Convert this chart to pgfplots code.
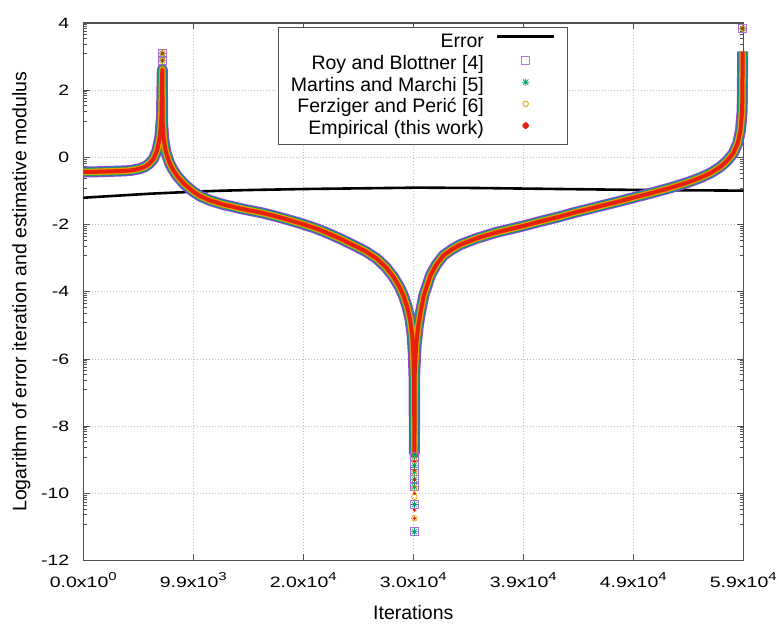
\documentclass[border=0pt]{standalone}
\usepackage{fontspec}
\setmainfont{Liberation Sans}
\newfontfamily\tickfont[FakeStretch=1.3]{Liberation Sans}
\usepackage{pgfplots}
\usepackage{pgfplotstable}
\pgfplotsset{compat=1.18}
\usetikzlibrary{calc}

\definecolor{royc}{HTML}{9B45D4}
\definecolor{ringc}{HTML}{5560C0}
\definecolor{mmc}{HTML}{009E73}
\definecolor{fpc}{HTML}{E69F00}
\definecolor{empc}{HTML}{E6200F}
\definecolor{gridc}{HTML}{BBBBBB}
\definecolor{framec}{HTML}{505050}

% gnuplot-style asterisk (+ and x)
\pgfdeclareplotmark{gpstar}{%
  \pgfpathmoveto{\pgfqpoint{-\pgfplotmarksize}{0pt}}\pgfpathlineto{\pgfqpoint{\pgfplotmarksize}{0pt}}%
  \pgfpathmoveto{\pgfqpoint{0pt}{-\pgfplotmarksize}}\pgfpathlineto{\pgfqpoint{0pt}{\pgfplotmarksize}}%
  \pgfpathmoveto{\pgfqpoint{-.707\pgfplotmarksize}{-.707\pgfplotmarksize}}\pgfpathlineto{\pgfqpoint{.707\pgfplotmarksize}{.707\pgfplotmarksize}}%
  \pgfpathmoveto{\pgfqpoint{-.707\pgfplotmarksize}{.707\pgfplotmarksize}}\pgfpathlineto{\pgfqpoint{.707\pgfplotmarksize}{-.707\pgfplotmarksize}}%
  \pgfusepathqstroke}

\newcommand\expo[1]{\raisebox{6.6pt}{\fontsize{11.5}{12}\selectfont #1}}

% error of the iteration (log modulus)
\pgfplotstableread{
it err
0 -1.20
2000 -1.16
4000 -1.12
6000 -1.08
8000 -1.05
10000 -1.02
12500 -0.99
15000 -0.97
20000 -0.94
25000 -0.92
30000 -0.90
35000 -0.91
40000 -0.93
45000 -0.95
50000 -0.97
55000 -0.98
59100 -0.99
}\errtable

% the four estimators coincide along the curve
\pgfplotstableread{
it logest
0 -0.43
1000 -0.43
2000 -0.42
3000 -0.41
3800 -0.40
4400 -0.38
5000 -0.34
5500 -0.28
5900 -0.19
6270 -0.05
6600 0.20
6850 0.60
7000 1.20
7074 2.62
7110 1.00
7200 0.55
7400 0.15
7700 -0.15
8000 -0.35
8400 -0.55
9000 -0.78
9850 -1.02
10500 -1.16
11340 -1.28
12500 -1.40
14330 -1.54
16000 -1.65
17320 -1.76
18500 -1.87
19700 -1.99
20800 -2.11
21790 -2.24
23000 -2.42
24180 -2.61
25300 -2.80
26270 -3.01
27100 -3.27
27760 -3.55
28300 -3.85
28650 -4.10
29000 -4.45
29250 -4.80
29450 -5.30
29560 -5.90
29620 -6.60
29650 -8.80
29680 -6.40
29800 -5.60
30000 -5.00
30200 -4.60
30500 -4.10
30800 -3.80
31100 -3.50
31600 -3.20
32240 -2.92
33000 -2.74
33730 -2.60
35220 -2.41
37000 -2.23
39400 -2.04
41000 -1.90
42690 -1.76
44000 -1.64
45670 -1.50
47500 -1.35
49250 -1.20
51000 -1.05
52530 -0.91
54000 -0.76
55220 -0.61
56200 -0.46
57010 -0.29
57600 -0.12
58200 0.12
58600 0.42
58850 0.80
59000 1.40
59050 3.15
}\esttable

% isolated points near the singularities
\pgfplotstableread{
it y
7074 3.10
7074 2.88
59050 3.83
29650 -8.91
29650 -9.16
29650 -9.36
29650 -9.58
29650 -9.80
29650 -10.33
29650 -11.14
}\roypts
\pgfplotstableread{
it y
7074 3.10
7074 2.88
59050 3.83
29650 -8.91
29650 -9.16
29650 -9.36
29650 -9.58
29650 -9.80
29650 -10.33
29650 -11.14
}\mmpts
\pgfplotstableread{
it y
7074 3.10
7074 2.88
59050 3.83
29650 -9.00
29650 -9.40
29650 -9.85
29650 -10.10
29650 -10.74
}\fppts
\pgfplotstableread{
it y
7074 3.10
7074 2.88
59050 3.83
29650 -9.05
29650 -9.30
29650 -9.60
29650 -10.00
29650 -10.50
29650 -10.74
}\emppts

\begin{document}
\begin{tikzpicture}[font=\fontsize{19.5}{23}\selectfont]
\begin{axis}[
  name=ax, scale only axis, width=660pt, height=537.6pt,
  xmin=0, xmax=59100, ymin=-12, ymax=4,
  scaled x ticks=false, scaled y ticks=false,
  clip=false,
  axis line style={framec, line width=1.1pt},
  tick style={framec, line width=1pt},
  major tick length=6.5pt, minor tick length=3.4pt,
  tick align=inside,
  xtick={0,9850,19700,29550,39400,49250,59100},
  xticklabels={0.0x10\expo{0},9.9x10\expo{3},2.0x10\expo{4},3.0x10\expo{4},3.9x10\expo{4},4.9x10\expo{4},5.9x10\expo{4}},
  ytick={-12,-10,-8,-6,-4,-2,0,2,4},
  yticklabels={-12,-10,-8,-6,-4,-2,0,2,4},
  minor ytick={3.95,3.89,3.83,3.74,3.65,3.53,3.36,3.08,
    1.95,1.89,1.83,1.74,1.65,1.53,1.36,1.08,
    -0.05,-0.11,-0.17,-0.26,-0.35,-0.47,-0.64,-0.92,
    -2.05,-2.11,-2.17,-2.26,-2.35,-2.47,-2.64,-2.92,
    -4.05,-4.11,-4.17,-4.26,-4.35,-4.47,-4.64,-4.92,
    -6.05,-6.11,-6.17,-6.26,-6.35,-6.47,-6.64,-6.92,
    -8.05,-8.11,-8.17,-8.26,-8.35,-8.47,-8.64,-8.92,
    -10.05,-10.11,-10.17,-10.26,-10.35,-10.47,-10.64,-10.92},
  grid=major,
  major grid style={gridc, line width=0.8pt, dash pattern=on 1pt off 2pt},
  xticklabel style={anchor=base, yshift=-26.7pt, inner sep=0pt, font=\tickfont\fontsize{15}{18}\selectfont},
  yticklabel style={anchor=east, xshift=-13.9pt, inner sep=0pt, font=\tickfont\fontsize{15}{18}\selectfont},
  xlabel={Iterations},
  ylabel={Logarithm of error iteration and estimative modulus},
  xlabel style={at={(axis description cs:0.5,-0.1100)}, anchor=base},
  ylabel style={at={(axis description cs:-0.0862,0.5)}, anchor=base},
  legend plot pos=right,
  legend cell align=right,
  legend style={at={(axis description cs:0.5150,0.992)}, anchor=north,
    draw=framec, line width=1pt, fill=white,
    font=\fontsize{19.5}{23}\selectfont,
    inner xsep=12pt, inner ysep=6pt, row sep=3.7pt, column sep=12pt,
    nodes={inner sep=0pt, text height=14pt, text depth=4pt}},
]
\addplot[black, line width=2.6pt,
  legend image code/.code={\draw[black, line width=2.6pt] (0pt,6pt) -- (57pt,6pt);}]
  table[x=it, y=err] {\errtable};
\addlegendentry{Error}
\addplot[royc, line width=11pt, line join=round,
  legend image code/.code={\path[draw=none, fill=none, line width=0pt] (0pt,4pt) -- (57pt,4pt);
    \draw[royc!75, line width=0.8pt, mark=square, mark size=3.8pt] plot coordinates {(28.5pt,4pt)};}]
  table[x=it, y=logest] {\esttable};
\addlegendentry{Roy and Blottner [4]}
\addplot[ringc, line width=9.6pt, line join=round, forget plot] table[x=it, y=logest] {\esttable};
\addplot[mmc, line width=8.2pt, line join=round,
  legend image code/.code={\path[draw=none, fill=none, line width=0pt] (0pt,4pt) -- (57pt,4pt);
    \draw[mmc, line width=0.8pt, mark=gpstar, mark size=3.8pt] plot coordinates {(28.5pt,4pt)};}]
  table[x=it, y=logest] {\esttable};
\addlegendentry{Martins and Marchi [5]}
\addplot[fpc, line width=6.6pt, line join=round,
  legend image code/.code={\path[draw=none, fill=none, line width=0pt] (0pt,4pt) -- (57pt,4pt);
    \draw[fpc, line width=0.8pt, mark=o, mark size=2.8pt] plot coordinates {(28.5pt,4pt)};}]
  table[x=it, y=logest] {\esttable};
\addlegendentry{Ferziger and Perić [6]}
\addplot[empc, line width=4pt, line join=round,
  legend image code/.code={\path[draw=none, fill=none, line width=0pt] (0pt,4pt) -- (57pt,4pt);
    \fill[empc] (28.5pt,4pt) circle (1.4pt);}]
  table[x=it, y=logest] {\esttable};
\addlegendentry{Empirical (this work)}
\addplot[only marks, mark=square, mark size=4pt, royc!80, line width=0.8pt, forget plot] table[x=it, y=y] {\roypts};
\addplot[only marks, mark=gpstar, mark size=3.6pt, mmc, line width=0.7pt, forget plot] table[x=it, y=y] {\mmpts};
\addplot[only marks, mark=o, mark size=2.8pt, fpc, line width=0.7pt, forget plot] table[x=it, y=y] {\fppts};
\addplot[only marks, mark=*, mark size=1.4pt, empc, forget plot] table[x=it, y=y] {\emppts};
\end{axis}
\pgfresetboundingbox
\path[use as bounding box] ($(ax.south west)+(-83.3pt,-63.4pt)$) rectangle ($(ax.north east)+(35.7pt,23pt)$);
\end{tikzpicture}
\end{document}
